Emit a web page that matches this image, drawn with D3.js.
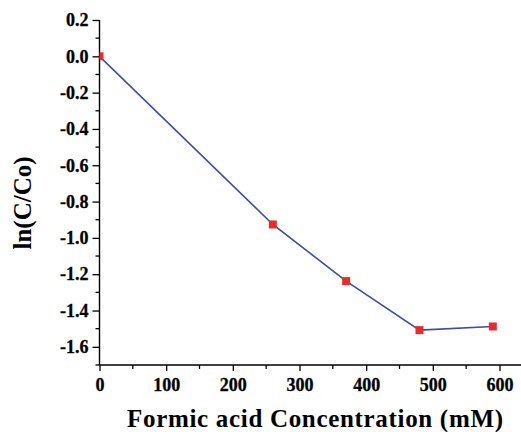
<!DOCTYPE html>
<html>
<head>
<meta charset="utf-8">
<script src="https://cdn.jsdelivr.net/npm/d3@7"></script>
<style>
  body { margin: 0; background: #fff; }
  svg text { font-family: "Liberation Serif", "Times New Roman", serif; font-weight: bold; }
  .tick text { font-size: 18px; }
</style>
</head>
<body>
<svg id="canvas"></svg>
<script>
// data
const concentration = [0, 260, 370, 480, 590];
const lnRatio = [0, -0.926, -1.238, -1.508, -1.488];
const xTicks = [0, 100, 200, 300, 400, 500, 600];
const yTicks = [0.2, 0.0, -0.2, -0.4, -0.6, -0.8, -1.0, -1.2, -1.4, -1.6];
const xLabel = 'Formic acid Concentration (mM)';
const yLabel = 'ln(C/Co)';

const width = 521;
const height = 432;
const plotLeft = 99.5;
const plotTop = 20;
const plotBottom = 365;

let canvas = d3.select('#canvas')
    .attr('width', width)
    .attr('height', height);

let xScale = d3.scaleLinear()
    .domain([0, 632])
    .range([plotLeft, plotLeft + 632 * (200 / 3) / 100]);

let yScale = d3.scaleLinear()
    .domain([-1.7, 0.2])
    .range([plotBottom, plotTop]);

const minorX = d3.range(50, 650, 100);
const minorY = d3.range(-1.7, 0.2, 0.2).map(v => +v.toFixed(1));

// x axis
let xAxis = d3.axisBottom(xScale)
    .tickValues(xTicks)
    .tickFormat(d3.format('d'))
    .tickSize(6)
    .tickPadding(7);

let gx = canvas.append('g')
    .attr('transform', 'translate(0,' + plotBottom + ')')
    .call(xAxis);
gx.selectAll('line.minor')
    .data(minorX)
    .enter()
    .append('line')
    .attr('x1', d => xScale(d))
    .attr('x2', d => xScale(d))
    .attr('y1', 0)
    .attr('y2', 4)
    .attr('stroke', '#000')
    .attr('stroke-width', 1.3);

// y axis, plain hyphen for the minus sign like the original
let yAxis = d3.axisLeft(yScale)
    .tickValues(yTicks)
    .tickFormat(v => v.toFixed(1).replace('-0.0', '0.0'))
    .tickSize(7)
    .tickPadding(4);

let gy = canvas.append('g')
    .attr('transform', 'translate(' + plotLeft + ',0)')
    .call(yAxis);
gy.selectAll('line.minor')
    .data(minorY)
    .enter()
    .append('line')
    .attr('x1', 0)
    .attr('x2', -4)
    .attr('y1', d => yScale(d))
    .attr('y2', d => yScale(d))
    .attr('stroke', '#000')
    .attr('stroke-width', 1.3);

[gx, gy].forEach(g => {
    g.attr('font-size', null).attr('font-family', null);
    g.select('.domain').attr('stroke-width', 1.4);
    g.selectAll('.tick line').attr('stroke-width', 1.3);
    g.selectAll('.tick text')
        .attr('fill', '#000')
        .attr('stroke', '#000')
        .attr('stroke-width', 0.3);
});
gy.select('.domain').attr('d', 'M0,' + plotTop + 'V' + plotBottom);
gx.select('.domain').attr('d', 'M' + plotLeft + ',0H' + width);

// clip the plot area
canvas.append('clipPath')
    .attr('id', 'plot-clip')
    .append('rect')
    .attr('x', plotLeft)
    .attr('y', 0)
    .attr('width', width - plotLeft)
    .attr('height', plotBottom);

const points = concentration.map((c, i) => ({ x: c, y: lnRatio[i] }));

let line = d3.line()
    .x(d => xScale(d.x))
    .y(d => yScale(d.y));

let plot = canvas.append('g').attr('clip-path', 'url(#plot-clip)');

plot.append('path')
    .datum(points)
    .attr('d', line)
    .attr('fill', 'none')
    .attr('stroke', '#3a4ea8')
    .attr('stroke-width', 1.6);

plot.selectAll('rect.pt')
    .data(points)
    .enter()
    .append('rect')
    .attr('class', 'pt')
    .attr('x', d => xScale(d.x) - 4)
    .attr('y', d => yScale(d.y) - 4)
    .attr('width', 8)
    .attr('height', 8)
    .attr('fill', '#ec2a2a');

// axis titles
canvas.append('text')
    .attr('x', 315)
    .attr('y', 427)
    .attr('text-anchor', 'middle')
    .style('font-size', '25px')
    .attr('textLength', 376)
    .text(xLabel);

canvas.append('text')
    .attr('transform', 'translate(31,203) rotate(-90)')
    .attr('text-anchor', 'middle')
    .style('font-size', '25px')
    .text(yLabel);
</script>
</body>
</html>
